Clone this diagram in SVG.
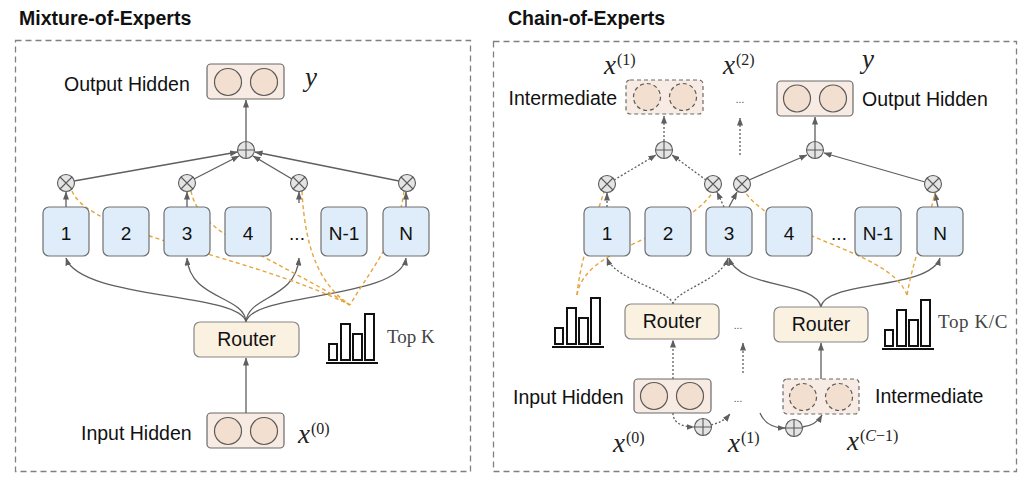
<svg xmlns="http://www.w3.org/2000/svg" xmlns:xlink="http://www.w3.org/1999/xlink" width="1029" height="482" viewBox="0 0 1029 482">
<style>
.title{font-family:"Liberation Sans",Arial,sans-serif;font-weight:bold;font-size:19.5px;fill:#111}
.lbl{font-family:"Liberation Sans",Arial,sans-serif;font-size:19.5px;fill:#111}
.elbl{font-family:"Liberation Sans",Arial,sans-serif;font-size:19px;fill:#111;text-anchor:middle}
.dots{font-family:"Liberation Sans",Arial,sans-serif;font-size:10px;fill:#444;text-anchor:middle}
.math{font-family:"Liberation Serif","Times New Roman",serif;font-style:italic;font-size:27px;fill:#222}
.sup{font-style:normal;font-size:16px}
.topk{font-family:"Liberation Serif","Times New Roman",serif;font-size:19px;fill:#444}
.panel{fill:none;stroke:#808080;stroke-width:1.3;stroke-dasharray:6 4}
.expert{fill:#deedf9;stroke:#707070;stroke-width:1.2}
.router{fill:#fbf1e1;stroke:#858585;stroke-width:1.2}
.hid{fill:#f7ebe3;stroke:#6a6a6a;stroke-width:1.2}
.hidd{fill:#f7ebe3;stroke:#6a6a6a;stroke-width:1.2;stroke-dasharray:4 3}
.cir{fill:#f3dfcf;stroke:#5a5a5a;stroke-width:1.2}
.cird{fill:#f3dfcf;stroke:#5a5a5a;stroke-width:1.2;stroke-dasharray:4 3}
.op circle{fill:#e4e4e4;stroke:#5a5a5a;stroke-width:1.1}
.op path{stroke:#5a5a5a;stroke-width:1.1;fill:none}
.bars rect{fill:#fff;stroke:#111;stroke-width:2}
.bars path{stroke:#111;stroke-width:2;fill:none}
.c{fill:none;stroke:#5f5f5f;stroke-width:1.3}
.a{marker-end:url(#ah)}
.d{stroke-dasharray:2 2}
.y{fill:none;stroke:#e6a53e;stroke-width:1.4;stroke-dasharray:4 3}
</style>
<defs>
<marker id="ah" viewBox="0 0 8 6" refX="7.5" refY="3" markerWidth="8" markerHeight="6" markerUnits="userSpaceOnUse" orient="auto">
<path d="M0,0 L8,3 L0,6 z" fill="#5f5f5f" stroke="none"/>
</marker>
<g id="plus" class="op"><circle r="8.5"/><path d="M-8.5,0H8.5M0,-8.5V8.5"/></g>
<g id="times" class="op"><circle r="8.5"/><path d="M-6,-6L6,6M-6,6L6,-6"/></g>
<g id="chart" class="bars"><rect x="3" y="-19" width="8" height="16"/><rect x="15" y="-39" width="9" height="36"/><rect x="27" y="-29" width="9" height="26"/><rect x="39" y="-49" width="9" height="46"/><path d="M0,0H52"/></g>
</defs>
<rect width="1029" height="482" fill="#fff"/>

<!-- ============ LEFT: Mixture-of-Experts ============ -->
<g id="moe">
<text class="title" x="19" y="25">Mixture-of-Experts</text>
<rect class="panel" x="15.5" y="40.5" width="455" height="431"/>

<g id="moe-connectors">
<line class="c a" x1="246" y1="141" x2="246" y2="100"/>
<line class="c a" x1="74" y1="181" x2="237.5" y2="152"/>
<line class="c a" x1="194" y1="179" x2="239" y2="156"/>
<line class="c a" x1="292" y1="179" x2="253" y2="156"/>
<line class="c a" x1="399" y1="181" x2="255" y2="152"/>
<line class="c a" x1="66" y1="207" x2="66" y2="192"/>
<line class="c a" x1="187" y1="207" x2="187" y2="192"/>
<line class="c a" x1="299" y1="203" x2="299" y2="192"/>
<line class="c a" x1="406" y1="207" x2="406" y2="192"/>
<path class="c a" d="M246,322 C240,292 80,300 66,258"/>
<path class="c a" d="M246,322 C244,295 190,300 187,258"/>
<path class="c a" d="M246,322 C248,295 296,300 299,258"/>
<path class="c a" d="M246,322 C252,292 400,300 406,258"/>
<line class="c a" x1="246" y1="413" x2="246" y2="358"/>
<path class="y" d="M72,191 C90,235 250,255 350,305"/>
<path class="y" d="M191,191 C200,235 260,250 350,305"/>
<path class="y" d="M302,191 C305,250 320,285 350,305"/>
<path class="y" d="M404,191 C398,240 370,270 350,305"/>
</g>

<g id="moe-output">
<rect class="hid" x="207" y="64" width="77" height="35" rx="4"/>
<circle class="cir" cx="228" cy="82" r="13.5"/>
<circle class="cir" cx="264" cy="82" r="13.5"/>
<text class="lbl" x="64" y="91">Output Hidden</text>
<text class="math" x="305" y="86">y</text>
</g>
<g id="moe-sum"><use xlink:href="#plus" x="246" y="150"/></g>
<g id="moe-g1"><use xlink:href="#times" x="66" y="183"/></g>
<g id="moe-g3"><use xlink:href="#times" x="187" y="183"/></g>
<g id="moe-gd"><use xlink:href="#times" x="299" y="183"/></g>
<g id="moe-gN"><use xlink:href="#times" x="407" y="183"/></g>
<g id="moe-e1"><rect class="expert" x="43" y="207" width="46" height="49" rx="6"/><text class="elbl" x="66" y="240">1</text></g>
<g id="moe-e2"><rect class="expert" x="103" y="207" width="46" height="49" rx="6"/><text class="elbl" x="126" y="240">2</text></g>
<g id="moe-e3"><rect class="expert" x="164" y="207" width="46" height="49" rx="6"/><text class="elbl" x="187" y="240">3</text></g>
<g id="moe-e4"><rect class="expert" x="225" y="207" width="46" height="49" rx="6"/><text class="elbl" x="248" y="240">4</text></g>
<g id="moe-edots"><text class="elbl" x="297" y="240">...</text></g>
<g id="moe-eN1"><rect class="expert" x="321" y="207" width="46" height="49" rx="6"/><text class="elbl" x="344" y="240">N-1</text></g>
<g id="moe-eN"><rect class="expert" x="383" y="207" width="46" height="49" rx="6"/><text class="elbl" x="406" y="240">N</text></g>
<g id="moe-router"><rect class="router" x="194" y="322" width="105" height="35" rx="6"/><text class="lbl" x="246.5" y="346" text-anchor="middle">Router</text></g>
<g id="moe-topk"><use xlink:href="#chart" x="326" y="363"/><text class="topk" x="387" y="343">Top K</text></g>
<g id="moe-input">
<rect class="hid" x="207" y="413" width="77" height="35" rx="4"/>
<circle class="cir" cx="228" cy="431" r="13.5"/>
<circle class="cir" cx="264" cy="431" r="13.5"/>
<text class="lbl" x="81" y="440">Input Hidden</text>
<text class="math" x="298" y="443">x<tspan class="sup" dx="1" dy="-9">(0)</tspan></text>
</g>
</g>

<!-- ============ RIGHT: Chain-of-Experts ============ -->
<g id="coe">
<text class="title" x="508" y="25">Chain-of-Experts</text>
<rect class="panel" x="493.5" y="41.5" width="523" height="430"/>

<g id="coe-connectors">
<line class="c a d" x1="664" y1="141" x2="664" y2="116"/>
<line class="c a d" x1="740" y1="155" x2="740" y2="118"/>
<line class="c a" x1="815" y1="141" x2="815" y2="117"/>
<line class="c a d" x1="614" y1="180" x2="656" y2="155"/>
<line class="c a d" x1="706" y1="180" x2="672" y2="155"/>
<line class="c a" x1="749" y1="180" x2="807" y2="155"/>
<line class="c a" x1="925" y1="182" x2="824" y2="153"/>
<line class="c a d" x1="607" y1="207" x2="607" y2="193"/>
<line class="c a d" x1="724" y1="207" x2="717" y2="192"/>
<line class="c a" x1="729" y1="207" x2="737" y2="192"/>
<line class="c a" x1="938" y1="207" x2="935" y2="193"/>
<path class="c a d" d="M673,304 C670,290 615,280 607,258"/>
<path class="c a d" d="M673,304 C676,290 722,280 728,258"/>
<path class="c a" d="M821,307 C815,280 740,290 729,258"/>
<path class="c a" d="M821,307 C825,280 930,290 940,258"/>
<line class="c a d" x1="673" y1="379" x2="673" y2="340"/>
<line class="c a d" x1="743" y1="373" x2="743" y2="343"/>
<line class="c a" x1="821" y1="379" x2="821" y2="343"/>
<path class="c a d" d="M673,413 C673,424 684,427 694,427"/>
<path class="c a d" d="M711,425 C719,423 725,420 730,414"/>
<path class="c a" d="M760,413 C765,425 775,428 785,428"/>
<path class="c a" d="M802,427 C812,426 818,422 822,415"/>
<path class="y" d="M577,295 C580,260 595,220 604,192"/>
<path class="y" d="M577,295 C585,245 680,240 713,192"/>
<path class="y" d="M907,295 C890,250 780,240 745,192"/>
<path class="y" d="M907,295 C915,250 930,220 935,192"/>
</g>

<g id="coe-inter-top">
<rect class="hidd" x="626" y="80" width="77" height="34" rx="4"/>
<circle class="cird" cx="647" cy="97" r="13.5"/>
<circle class="cird" cx="683" cy="97" r="13.5"/>
<text class="lbl" x="617" y="105" text-anchor="end">Intermediate</text>
<text class="math" x="604" y="74">x<tspan class="sup" dx="1" dy="-9">(1)</tspan></text>
</g>
<g id="coe-mid-top">
<text class="dots" x="740" y="103">...</text>
<text class="math" x="723" y="74">x<tspan class="sup" dx="1" dy="-9">(2)</tspan></text>
</g>
<g id="coe-output">
<rect class="hid" x="777" y="81" width="76" height="35" rx="4"/>
<circle class="cir" cx="797" cy="98.5" r="13.5"/>
<circle class="cir" cx="833" cy="98.5" r="13.5"/>
<text class="lbl" x="862" y="106">Output Hidden</text>
<text class="math" x="862" y="68">y</text>
</g>
<g id="coe-sum1"><use xlink:href="#plus" x="664" y="150"/></g>
<g id="coe-sum2"><use xlink:href="#plus" x="815" y="150"/></g>
<g id="coe-g1"><use xlink:href="#times" x="607" y="184"/></g>
<g id="coe-g2"><use xlink:href="#times" x="713" y="184"/></g>
<g id="coe-g3"><use xlink:href="#times" x="742" y="184"/></g>
<g id="coe-gN"><use xlink:href="#times" x="933" y="184"/></g>
<g id="coe-e1"><rect class="expert" x="584" y="207" width="46" height="49" rx="6"/><text class="elbl" x="607" y="240">1</text></g>
<g id="coe-e2"><rect class="expert" x="645" y="207" width="46" height="49" rx="6"/><text class="elbl" x="668" y="240">2</text></g>
<g id="coe-e3"><rect class="expert" x="706" y="207" width="46" height="49" rx="6"/><text class="elbl" x="729" y="240">3</text></g>
<g id="coe-e4"><rect class="expert" x="766" y="207" width="46" height="49" rx="6"/><text class="elbl" x="789" y="240">4</text></g>
<g id="coe-edots"><text class="elbl" x="839" y="240">...</text></g>
<g id="coe-eN1"><rect class="expert" x="855" y="207" width="46" height="49" rx="6"/><text class="elbl" x="878" y="240">N-1</text></g>
<g id="coe-eN"><rect class="expert" x="917" y="207" width="46" height="49" rx="6"/><text class="elbl" x="940" y="240">N</text></g>
<g id="coe-chart1"><use xlink:href="#chart" x="552" y="347"/></g>
<g id="coe-router1"><rect class="router" x="625" y="304" width="94" height="35" rx="6"/><text class="lbl" x="672" y="328" text-anchor="middle">Router</text></g>
<g id="coe-router-dots"><text class="dots" x="738" y="329">...</text></g>
<g id="coe-router2"><rect class="router" x="774" y="307" width="94" height="35" rx="6"/><text class="lbl" x="821" y="331" text-anchor="middle">Router</text></g>
<g id="coe-chart2"><use xlink:href="#chart" x="882" y="349"/><text class="topk" x="938" y="328" letter-spacing="0.6">Top K/C</text></g>
<g id="coe-input">
<rect class="hid" x="634" y="379" width="77" height="34" rx="4"/>
<circle class="cir" cx="654" cy="396" r="13.5"/>
<circle class="cir" cx="690" cy="396" r="13.5"/>
<text class="lbl" x="513" y="404">Input Hidden</text>
<text class="math" x="613" y="452">x<tspan class="sup" dx="1" dy="-9">(0)</tspan></text>
</g>
<g id="coe-input-dots"><text class="dots" x="738" y="402">...</text>
<text class="math" x="728" y="452">x<tspan class="sup" dx="1" dy="-9">(1)</tspan></text></g>
<g id="coe-sum3"><use xlink:href="#plus" x="703" y="427"/></g>
<g id="coe-sum4"><use xlink:href="#plus" x="794" y="428"/></g>
<g id="coe-inter-bot">
<rect class="hidd" x="783" y="379" width="76" height="35" rx="4"/>
<circle class="cird" cx="803" cy="397" r="13.5"/>
<circle class="cird" cx="839" cy="397" r="13.5"/>
<text class="lbl" x="875" y="403">Intermediate</text>
<text class="math" x="847" y="450">x<tspan class="sup" dx="1" dy="-9">(<tspan font-style="italic">C</tspan>−1)</tspan></text>
</g>
</g>
</svg>
